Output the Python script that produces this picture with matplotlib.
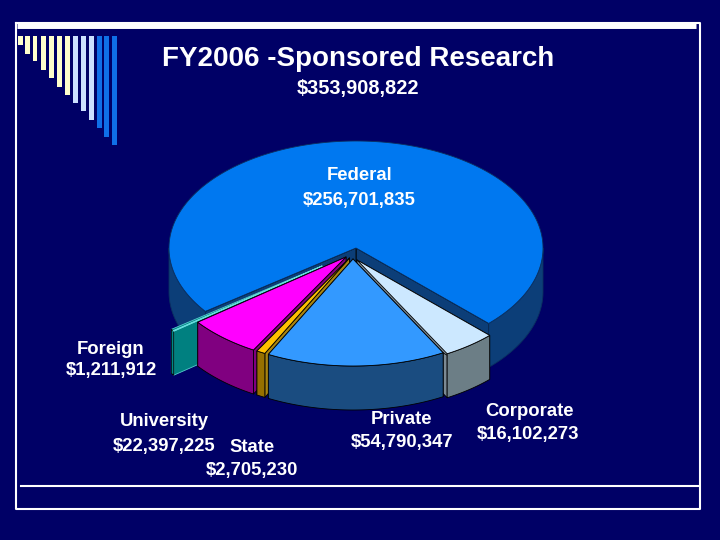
import numpy as np
import matplotlib
matplotlib.use("Agg")
import matplotlib.pyplot as plt
from matplotlib.patches import Polygon

plt.rcParams['font.family'] = ['Liberation Sans', 'DejaVu Sans']

# --- data
categories = ["Federal", "Foreign", "University", "State", "Private", "Corporate"]
amounts = [256701835, 1211912, 22397225, 2705230, 54790347, 16102273]
total_amount = 353908822
title_text = "FY2006 -Sponsored Research"

# --- style
BG = "#000066"
top_colors = ["#0078F0", "#66DDDD", "#FF00FF", "#FFC000", "#3399FF", "#CCE8FF"]
rim_colors = ["#0C3E78", "#008888", "#800080", "#967000", "#1A4C80", "#6C7E86"]
cut_colors = ["#0C3E78", "#008080", "#800080", "#A88410", "#1A4C80", "#7C8A94"]
offsets = {"Federal": (356, 248), "Foreign": (322, 266), "University": (346, 257),
           "State": (349.5, 258), "Private": (353, 259), "Corporate": (357, 260)}
draw_order = ["Federal", "Foreign", "Corporate", "University", "State", "Private"]
label_pos = {"Federal": ((360, 175), (359, 200)), "Foreign": ((111, 349), (111, 371)),
             "University": ((164, 422), (164, 446)), "State": ((252, 447), (252, 471)),
             "Private": ((401, 420), (402, 443)), "Corporate": ((529, 411), (528, 435))}
RX, RY, DEPTH = 187, 107, 44
START = -44.8

deco_lengths = [9, 18, 25, 34, 42, 51, 59, 67, 75, 84, 92, 101, 109]
deco_lefts = [18.3, 25, 32.7, 41, 49.3, 57.3, 65.3, 73.3, 81, 89, 97, 104, 112]
deco_colors = ["#FFFFCC"] * 7 + ["#CCE0FF"] * 3 + ["#0F6FE8"] * 3

fig = plt.figure(figsize=(7.2, 5.4), dpi=100, facecolor=BG)
ax = fig.add_axes([0, 0, 1, 1])
ax.set_xlim(0, 720)
ax.set_ylim(540, 0)
ax.axis("off")

# --- slide frame
ax.bar(deco_lefts, deco_lengths, width=4.6, bottom=36, align="edge", color=deco_colors, lw=0)
ax.plot([15.5, 15.5, 699.5, 699.5, 15.5], [23, 509, 509, 23, 23], color="white", lw=1.5)
ax.plot([17, 696], [24.5, 24.5], color="white", lw=5, solid_capstyle="butt")
ax.plot([21, 699], [486, 486], color="white", lw=1.5)

# --- 3D pie
values = np.array(amounts, float)
ang = START + np.concatenate([[0], np.cumsum(values / values.sum() * 360)])
spans = {c: (ang[i], ang[i + 1]) for i, c in enumerate(categories)}

def rim(cx, cy, a0, a1):
    t = np.radians(np.linspace(a0, a1, max(int(abs(a1 - a0) * 2), 2) + 1))
    return np.column_stack([cx + RX * np.cos(t), cy - RY * np.sin(t)])

def poly(pts, fc, ec="black", lw=0.6, z=2):
    ax.add_patch(Polygon(pts, closed=True, facecolor=fc, edgecolor=ec, linewidth=lw,
                         joinstyle="round", zorder=z))

down = np.array([0, DEPTH])
for name in draw_order:
    i = categories.index(name)
    a0, a1 = spans[name]
    cx, cy = offsets[name]
    c = np.array([cx, cy])
    for a in (a0, a1):
        e = rim(cx, cy, a, a)[0]
        poly(np.array([c, e, e + down, c + down]), cut_colors[i],
             ec="#55CCCC" if name == "Foreign" else "black")
    # front-facing part of the outer rim, split at 360 deg
    for lo, hi in ((a0, a1), (a0 + 360, a1 + 360), (a0 - 360, a1 - 360)):
        l, h = max(lo, 180), min(hi, 360)
        if l < h:
            arc = rim(cx, cy, l, h)
            poly(np.vstack([arc, arc[::-1] + down]), rim_colors[i],
                 ec="#0A3060" if name == "Federal" else "black")
    # the Foreign sliver is seen nearly edge-on: only its last part shows
    shown_a0 = a1 - 0.3 * (a1 - a0) if name == "Foreign" else a0
    arc = rim(cx, cy, shown_a0, a1)
    top_ec = {"Federal": "#0A3060", "Foreign": "#66DDDD"}.get(name, "black")
    poly(np.vstack([c, arc]), top_colors[i], ec=top_ec)

# --- text
ax.text(358, 59.5, title_text, color="white", fontsize=20, fontweight="bold",
        ha="center", va="center", zorder=5)
ax.text(358, 88.5, f"${total_amount:,}", color="white", fontsize=14.4, fontweight="bold",
        ha="center", va="center", zorder=5)
for name, amt in zip(categories, amounts):
    p1, p2 = label_pos[name]
    ax.text(*p1, name, color="white", fontsize=13.3, fontweight="bold",
            ha="center", va="center", zorder=5)
    ax.text(*p2, f"${amt:,}", color="white", fontsize=13.3, fontweight="bold",
            ha="center", va="center", zorder=5)

fig.savefig("out.png", dpi=100, facecolor=BG)
